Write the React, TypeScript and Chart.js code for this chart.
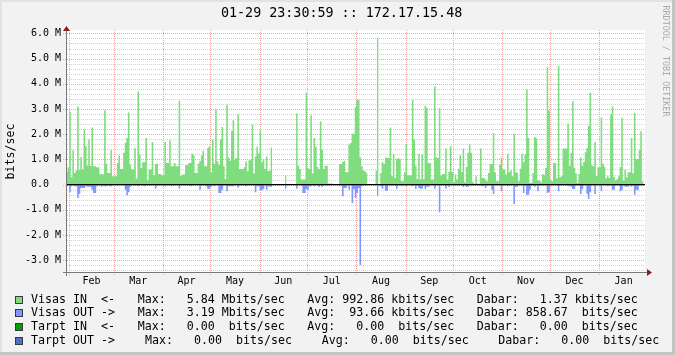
import React, { useEffect, useRef } from 'react';
import { Chart, registerables } from 'chart.js';

Chart.register(...registerables);

// ---------- text ----------
const TITLE = '01-29 23:30:59 :: 172.17.15.48';
const Y_UNIT = 'bits/sec';
const WATERMARK = 'RRDTOOL / TOBI OETIKER';

// ---------- x axis (days counted from Jan 1 of the first year) ----------
const MONTH_LABELS = ['Feb', 'Mar', 'Apr', 'May', 'Jun', 'Jul', 'Aug', 'Sep', 'Oct', 'Nov', 'Dec', 'Jan'];
const MONTH_BOUNDS = [31, 59, 90, 120, 151, 181, 212, 243, 273, 304, 334, 365, 396];
const X_MIN = 28.98; // Jan 29 23:31
const X_MAX = 393.98; // Jan 29 23:31 (next year)
const FIRST_DAY = 29; // first daily sample (Jan 30)

// ---------- y axis (Mbit/s) ----------
const Y_MIN = -3.508;
const Y_MAX = 6.135;
const Y_TICKS = [-3, -2, -1, 0, 1, 2, 3, 4, 5, 6];
const Y_MINOR_STEP = 0.2;

// ---------- series: daily averages, Mbit/s ----------
const visasIn: (number | null)[] = [
  0.50, 0.69, 2.90, 0.29, 1.36, 0.46, 0.57, 3.10, 0.57, 1.10,
  0.60, 2.20, 1.52, 0.75, 1.80, 0.75, 2.27, 0.73, 0.73, 0.69,
  0.69, 0.41, 0.41, 0.41, 2.95, 0.82, 0.46, 0.46, 1.36, 0.33,
  0.33, 0.33, 0.86, 1.15, 0.62, 0.62, 1.26, 1.65, 1.85, 2.86,
  0.80, 0.60, 0.60, 1.45, 0.24, 3.69, 1.19, 0.66, 0.89, 0.89,
  1.85, 0.17, 0.60, 0.60, 1.69, 0.37, 0.82, 0.83, 0.42, 0.42,
  0.37, 0.37, 1.69, 0.86, 0.86, 1.76, 0.73, 0.73, 0.86, 0.73,
  0.73, 3.33, 0.33, 0.40, 0.40, 0.77, 0.77, 0.86, 0.86, 1.23,
  1.16, 0.46, 0.46, 0.83, 0.93, 1.15, 1.34, 0.73, 0.73, 1.45,
  1.52, 0.49, 1.79, 0.83, 2.98, 0.93, 0.79, 1.79, 2.29, 0.73,
  0.22, 3.17, 1.08, 0.95, 2.12, 2.55, 0.99, 1.06, 2.78, 0.62,
  0.62, 0.62, 0.69, 0.93, 0.53, 0.97, 0.97, 2.38, 0.44, 1.12,
  1.50, 1.23, 2.18, 0.89, 0.99, 0.62, 1.12, 0.53, 0.56, 1.47,
  null, null, null, null, null, null, null, null, 0.36, null,
  null, null, null, null, null, 2.82, 0.75, 0.62, 0.20, 0.20,
  0.20, 3.64, 0.66, 0.62, 2.75, 0.44, 1.85, 1.50, 0.70, 0.62,
  2.50, 1.39, 0.62, 0.75, 0.75, 0.04, 0.03, 0.05, null, null,
  null, null, 0.82, 0.82, 0.90, 0.95, 0.49, 0.49, 1.59, 1.65,
  2.02, 2.02, 3.08, 3.37, 3.37, 1.08, 0.73, 0.56, 0.53, 0.46,
  null, null, null, null, null, 0.56, 5.84, null, 0.46, 0.90,
  0.82, 1.08, 1.06, 1.06, 2.27, 0.33, 1.22, 0.26, 1.02, 1.06,
  1.02, 0.13, 0.13, 0.49, 1.59, 0.37, 0.37, 0.36, 3.37, 1.79,
  0.75, 0.22, 1.22, 0.20, 1.19, 0.22, 3.13, 3.04, 0.86, 0.86,
  0.20, 0.20, 3.90, 1.08, 1.06, 3.04, 0.36, 0.42, 0.42, 1.43,
  0.20, 0.50, 1.52, 0.50, 0.10, 0.40, 0.20, 0.62, 1.16, 0.50,
  1.43, 0.09, 0.70, 1.26, 1.59, 1.26, 0.10, 0.04, 0.33, 0.04,
  0.03, 1.43, 0.26, 0.26, 0.20, 0.13, 0.46, 0.82, 0.82, 2.05,
  0.49, 0.13, 0.13, 0.79, 1.08, 0.60, 0.60, 0.40, 1.22, 0.49,
  0.57, 0.33, 2.02, 0.50, 0.46, 0.13, 0.63, 1.22, 0.89, 1.19,
  3.77, 1.85, 0.07, 0.07, 0.46, 1.89, 1.83, 0.16, 0.16, 0.09,
  0.42, 0.37, 0.66, 4.67, 2.94, 0.20, 0.13, 0.86, 0.86, 0.24,
  4.72, 0.30, 0.33, 1.43, 1.43, 1.43, 2.41, 0.75, 1.26, 3.31,
  0.66, 0.44, 0.07, 0.42, 1.08, 0.75, 0.90, 1.28, 1.45, 2.34,
  3.64, 0.77, 0.73, 1.68, 0.33, 0.69, 0.69, 2.65, 0.83, 0.70,
  0.24, 0.33, 0.26, 2.78, 3.10, 0.30, 0.16, 0.22, 0.33, 0.70,
  2.65, 0.16, 0.60, 0.29, 0.49, 0.49, 1.85, 0.44, 2.84, 1.02,
  1.02, 1.36, 2.12, 0.13,
];

// outgoing traffic (drawn below zero)
const visasOut: (number | null)[] = [
  0.03, 0.03, 0.30, 0.07, 0.03, 0.07, 0.07, 0.53, 0.36, 0.13,
  0.13, 0.13, 0.07, 0.09, 0.09, 0.09, 0.20, 0.33, 0.33, 0.07,
  0.03, 0.03, 0.09, 0.03, 0.07, 0.07, 0.03, 0.07, 0.07, 0.03,
  0.03, 0.03, 0.03, 0.03, 0.03, 0.03, 0.03, 0.20, 0.42, 0.30,
  0.09, 0.03, 0.03, 0.04, 0.03, 0.07, 0.03, 0.03, 0.03, 0.07,
  0.03, 0.03, 0.03, 0.03, 0.03, 0.03, 0.16, 0.03, 0.03, 0.03,
  0.03, 0.03, 0.07, 0.03, 0.03, 0.03, 0.07, 0.03, 0.03, 0.03,
  0.03, 0.15, 0.03, 0.03, 0.03, 0.03, 0.03, 0.03, 0.07, 0.03,
  0.03, 0.03, 0.03, 0.03, 0.20, 0.03, 0.03, 0.03, 0.07, 0.16,
  0.16, 0.09, 0.03, 0.07, 0.03, 0.03, 0.33, 0.33, 0.20, 0.03,
  0.03, 0.26, 0.07, 0.07, 0.07, 0.07, 0.03, 0.03, 0.12, 0.03,
  0.03, 0.03, 0.03, 0.07, 0.03, 0.03, 0.03, 0.03, 0.03, 0.30,
  0.07, 0.07, 0.22, 0.22, 0.17, 0.03, 0.20, 0.07, 0.09, 0.09,
  null, null, null, null, null, null, null, null, 0.16, null,
  null, null, null, null, null, 0.16, 0.03, 0.03, 0.03, 0.33,
  0.33, 0.17, 0.22, 0.07, 0.07, 0.03, 0.07, 0.03, 0.03, 0.10,
  0.03, 0.09, 0.03, 0.03, 0.03, 0.03, 0.03, 0.03, null, null,
  null, null, 0.07, 0.03, 0.46, 0.13, 0.13, 0.03, 0.20, 0.03,
  0.73, 0.17, 0.53, 0.33, 0.13, 3.19, 0.07, 0.03, 0.03, 0.03,
  null, null, null, null, null, 0.03, 0.46, null, 0.07, 0.16,
  0.03, 0.24, 0.24, 0.03, 0.03, 0.03, 0.03, 0.03, 0.16, 0.03,
  0.03, 0.07, 0.03, 0.03, 0.07, 0.03, 0.03, 0.03, 0.07, 0.03,
  0.17, 0.03, 0.13, 0.16, 0.16, 0.03, 0.16, 0.09, 0.09, 0.03,
  0.03, 0.03, 0.16, 0.03, 0.03, 1.10, 0.03, 0.03, 0.03, 0.16,
  0.03, 0.10, 0.03, 0.03, 0.03, 0.03, 0.03, 0.03, 0.03, 0.03,
  0.10, 0.03, 0.09, 0.09, 0.03, 0.03, 0.03, 0.03, 0.03, 0.03,
  0.03, 0.03, 0.07, 0.03, 0.13, 0.03, 0.03, 0.03, 0.20, 0.37,
  0.03, 0.03, 0.03, 0.03, 0.26, 0.03, 0.03, 0.03, 0.07, 0.03,
  0.03, 0.03, 0.77, 0.09, 0.09, 0.03, 0.03, 0.03, 0.33, 0.03,
  0.40, 0.40, 0.20, 0.03, 0.03, 0.09, 0.03, 0.26, 0.03, 0.03,
  0.03, 0.03, 0.03, 0.33, 0.30, 0.03, 0.03, 0.03, 0.03, 0.03,
  0.26, 0.03, 0.03, 0.03, 0.03, 0.03, 0.07, 0.03, 0.09, 0.17,
  0.17, 0.03, 0.03, 0.03, 0.37, 0.17, 0.03, 0.03, 0.36, 0.57,
  0.30, 0.03, 0.03, 0.37, 0.03, 0.03, 0.03, 0.26, 0.03, 0.03,
  0.03, 0.07, 0.03, 0.03, 0.20, 0.20, 0.03, 0.03, 0.03, 0.26,
  0.20, 0.03, 0.09, 0.09, 0.09, 0.03, 0.09, 0.03, 0.40, 0.20,
  0.22, 0.03, 0.03, 0.03,
];

// ---------- legend (text) ----------
const LEGEND_NAMES = ['Visas IN  <-', 'Visas OUT ->', 'Tarpt IN  <-', 'Tarpt OUT ->'];
const LEGEND_MAX = ['Max:   5.84 Mbits/sec', 'Max:   3.19 Mbits/sec', 'Max:   0.00  bits/sec', 'Max:   0.00  bits/sec'];
const LEGEND_AVG = ['Avg: 992.86 kbits/sec', 'Avg:  93.66 kbits/sec', 'Avg:   0.00  bits/sec', 'Avg:   0.00  bits/sec'];
const LEGEND_NOW = ['Dabar:   1.37 kbits/sec', 'Dabar: 858.67  bits/sec', 'Dabar:   0.00  bits/sec', 'Dabar:   0.00  bits/sec'];

// ---------- styles ----------
const W = 675;
const H = 355;
const BG = '#F2F2F2';
const SHADE_A = '#E2E2E2';
const SHADE_B = '#C4C4C4';
const GREEN = '#7FDC7F';
const BLUE = '#8097FF';
const LEGEND_COLORS = [GREEN, BLUE, '#00A000', '#4F6FC8'];
const MAJOR_GRID = '#EAA6A6';
const MINOR_GRID = '#D2D2D2';
const AXIS = '#7A7A7A';
const ARROW = '#8E1E1E';
const MONO = '"DejaVu Sans Mono", monospace';

// legend layout
const LEG_ROW_Y = [299.6, 313.4, 327.2, 341.0];
const LEG_GROUP_X = [
  [31, 137.7, 307.3, 476.7],
  [31, 137.7, 307.3, 476.7],
  [31, 137.7, 307.3, 476.7],
  [31, 145.0, 321.7, 498.3],
];

function toSteps(values: (number | null)[], sign: number) {
  const pts: { x: number; y: number | null }[] = [];
  values.forEach((v, i) => {
    const x = FIRST_DAY + i;
    if (v === null) {
      const prev = i > 0 ? values[i - 1] : null;
      if (prev !== null && prev !== undefined) pts.push({ x, y: sign * prev });
      pts.push({ x, y: null });
    } else {
      pts.push({ x, y: sign * v });
    }
  });
  const last = values[values.length - 1];
  if (last !== null && last !== undefined) pts.push({ x: FIRST_DAY + values.length, y: sign * last });
  return pts;
}

const rrdPlugin = {
  id: 'rrdFrame',
  beforeDraw(chart: any) {
    const { ctx, chartArea: a } = chart;
    ctx.save();
    ctx.fillStyle = BG;
    ctx.fillRect(0, 0, W, H);
    ctx.fillStyle = SHADE_A;
    ctx.fillRect(0, 0, W, 2);
    ctx.fillRect(0, 0, 2, H);
    ctx.fillStyle = SHADE_B;
    ctx.fillRect(0, H - 3, W, 3);
    ctx.fillRect(W - 3, 0, 3, H);
    ctx.fillStyle = '#FFFFFF';
    ctx.fillRect(a.left, a.top, a.right - a.left, a.bottom - a.top);
    ctx.restore();
  },
  beforeDatasetsDraw(chart: any) {
    const { ctx, chartArea: a, scales } = chart;
    const ys = scales.y;
    const xs = scales.x;
    ctx.save();
    ctx.lineWidth = 1;
    ctx.setLineDash([1, 1]);
    ctx.strokeStyle = MINOR_GRID;
    const kMin = Math.ceil(Y_MIN / Y_MINOR_STEP);
    const kMax = Math.floor(Y_MAX / Y_MINOR_STEP);
    for (let k = kMin; k <= kMax; k++) {
      const v = k * Y_MINOR_STEP;
      if (Math.abs(v - Math.round(v)) < 1e-6) continue;
      const y = Math.round(ys.getPixelForValue(v)) + 0.5;
      ctx.beginPath();
      ctx.moveTo(a.left + 1, y);
      ctx.lineTo(a.right, y);
      ctx.stroke();
    }
    ctx.strokeStyle = MAJOR_GRID;
    Y_TICKS.forEach((v) => {
      const y = Math.round(ys.getPixelForValue(v)) + 0.5;
      ctx.beginPath();
      ctx.moveTo(a.left - 3, y);
      ctx.lineTo(a.right, y);
      ctx.stroke();
    });
    MONTH_BOUNDS.forEach((d) => {
      if (d <= X_MIN || d >= X_MAX) return;
      const x = Math.round(xs.getPixelForValue(d)) + 0.5;
      ctx.beginPath();
      ctx.moveTo(x, a.top);
      ctx.lineTo(x, a.bottom + 3);
      ctx.stroke();
    });
    ctx.restore();
  },
  afterDatasetsDraw(chart: any) {
    const { ctx, chartArea: a, scales } = chart;
    const y0 = scales.y.getPixelForValue(0);
    ctx.save();
    ctx.strokeStyle = '#000000';
    ctx.lineWidth = 1.4;
    ctx.beginPath();
    ctx.moveTo(a.left, y0);
    ctx.lineTo(a.right, y0);
    ctx.stroke();
    ctx.lineWidth = 1;
    ctx.strokeStyle = AXIS;
    const ax = a.left + 0.5;
    const ay = a.bottom - 0.5;
    ctx.beginPath();
    ctx.moveTo(ax, a.bottom + 3);
    ctx.lineTo(ax, a.top - 2);
    ctx.stroke();
    ctx.beginPath();
    ctx.moveTo(a.left - 3, ay);
    ctx.lineTo(a.right + 2, ay);
    ctx.stroke();
    ctx.fillStyle = ARROW;
    ctx.beginPath();
    ctx.moveTo(ax - 3.5, a.top + 1);
    ctx.lineTo(ax + 3.5, a.top + 1);
    ctx.lineTo(ax, a.top - 4);
    ctx.closePath();
    ctx.fill();
    ctx.beginPath();
    ctx.moveTo(a.right + 2, ay - 3.5);
    ctx.lineTo(a.right + 2, ay + 3.5);
    ctx.lineTo(a.right + 7, ay);
    ctx.closePath();
    ctx.fill();
    ctx.restore();
  },
  afterDraw(chart: any) {
    const { ctx, chartArea: a } = chart;
    ctx.save();
    ctx.fillStyle = '#000000';
    ctx.font = `13.37px ${MONO}`;
    ctx.textAlign = 'center';
    ctx.textBaseline = 'middle';
    ctx.fillText(TITLE, 341.6, 13.5);
    ctx.save();
    ctx.translate(10.5, (a.top + a.bottom) / 2);
    ctx.rotate(-Math.PI / 2);
    ctx.font = `11.63px ${MONO}`;
    ctx.fillText(Y_UNIT, 0, 0);
    ctx.restore();
    ctx.save();
    ctx.translate(665.5, 61);
    ctx.rotate(Math.PI / 2);
    ctx.font = `8.4px ${MONO}`;
    ctx.fillStyle = '#A9A9A9';
    ctx.fillText(WATERMARK, 0, 0);
    ctx.restore();
    ctx.font = `11.63px ${MONO}`;
    ctx.textAlign = 'left';
    ctx.textBaseline = 'middle';
    LEGEND_NAMES.forEach((name, r) => {
      const y = LEG_ROW_Y[r];
      const gx = LEG_GROUP_X[r];
      ctx.fillStyle = LEGEND_COLORS[r];
      ctx.fillRect(16, Math.round(y) - 3, 6, 6);
      ctx.strokeStyle = '#3A3A3A';
      ctx.lineWidth = 1;
      ctx.strokeRect(15.5, Math.round(y) - 3.5, 7, 7);
      ctx.fillStyle = '#000000';
      const groups = [name, LEGEND_MAX[r], LEGEND_AVG[r], LEGEND_NOW[r]];
      groups.forEach((t, c) => ctx.fillText(t, gx[c], y));
    });
    ctx.restore();
  },
};

export default function App() {
  const ref = useRef<HTMLCanvasElement | null>(null);

  useEffect(() => {
    document.body.style.margin = '0';
    const canvas = ref.current;
    if (!canvas) return;
    const chart = new Chart(canvas, {
      type: 'line',
      data: {
        datasets: [
          {
            label: 'Visas IN',
            data: toSteps(visasIn, 1) as any,
            backgroundColor: GREEN,
            borderColor: 'rgba(0,0,0,0)',
            borderWidth: 0,
            pointRadius: 0,
            pointHitRadius: 0,
            fill: 'origin',
            stepped: true,
            spanGaps: false,
            tension: 0,
          },
          {
            label: 'Visas OUT',
            data: toSteps(visasOut, -1) as any,
            backgroundColor: BLUE,
            borderColor: 'rgba(0,0,0,0)',
            borderWidth: 0,
            pointRadius: 0,
            pointHitRadius: 0,
            fill: 'origin',
            stepped: true,
            spanGaps: false,
            tension: 0,
          },
        ],
      },
      options: {
        animation: false,
        responsive: false,
        devicePixelRatio: 1,
        events: [],
        layout: { padding: { left: 0, top: 30, right: 30, bottom: 62 } },
        plugins: {
          legend: { display: false },
          title: { display: false },
          tooltip: { enabled: false },
        },
        scales: {
          x: {
            type: 'linear',
            min: X_MIN,
            max: X_MAX,
            grid: { display: false, drawTicks: false },
            border: { display: false },
            afterBuildTicks: (s: any) => {
              s.ticks = MONTH_LABELS.map((_, i) => ({ value: (MONTH_BOUNDS[i] + MONTH_BOUNDS[i + 1]) / 2 }));
            },
            afterFit: (s: any) => {
              s.height = 20;
            },
            ticks: {
              autoSkip: false,
              maxRotation: 0,
              padding: 2.5,
              color: '#000000',
              font: { family: MONO, size: 10 },
              callback: (_v: any, i: number) => MONTH_LABELS[i],
            },
          },
          y: {
            type: 'linear',
            min: Y_MIN,
            max: Y_MAX,
            grid: { display: false, drawTicks: false },
            border: { display: false },
            afterBuildTicks: (s: any) => {
              s.ticks = Y_TICKS.map((v) => ({ value: v }));
            },
            afterFit: (s: any) => {
              s.width = 66;
            },
            ticks: {
              padding: 5,
              color: '#000000',
              font: { family: MONO, size: 10 },
              callback: (v: any) => (Number(v) === 0 ? '0.0  ' : Number(v).toFixed(1) + ' M'),
            },
          },
        },
      },
      plugins: [rrdPlugin],
    });
    return () => chart.destroy();
  }, []);

  return (
    <div style={{ width: W, height: H }}>
      <canvas ref={ref} width={W} height={H} style={{ display: 'block' }} />
    </div>
  );
}
